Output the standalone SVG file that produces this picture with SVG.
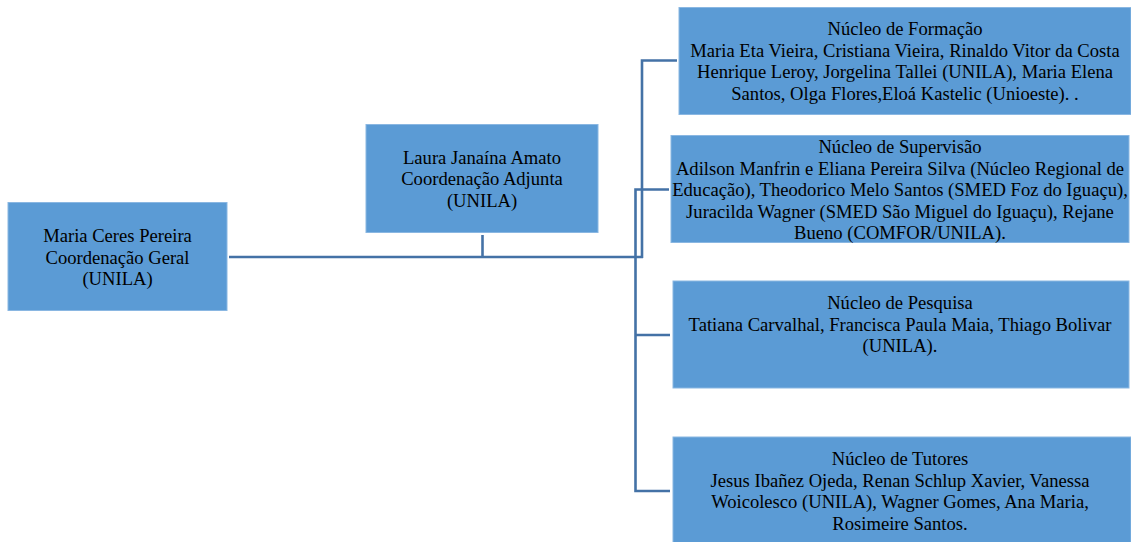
<svg xmlns="http://www.w3.org/2000/svg" width="1131" height="542" viewBox="0 0 1131 542">
<style>
.box{fill:#5B9BD5;stroke:#8AB7E2;stroke-width:1}
.t{font-family:"Liberation Serif","Times New Roman",serif;font-size:18.6px;fill:#000;text-anchor:middle}
.c{fill:none;stroke:#4472A6;stroke-width:2.6}
</style>
<rect width="1131" height="542" fill="#fff"/>
<g id="connectors">
<path class="c" d="M229,257 H643"/>
<path class="c" d="M482.5,235 V257"/>
<path class="c" d="M677,60.5 H642 V258"/>
<path class="c" d="M669,189.5 H635.5 V491 H670"/>
<path class="c" d="M635.5,335 H670"/>
</g>
<g id="coord-geral">
<rect class="box" x="8" y="202.5" width="219" height="108"/>
<text class="t" x="117.5" y="242">Maria Ceres Pereira</text>
<text class="t" x="117.5" y="264">Coordenação Geral</text>
<text class="t" x="117.5" y="285">(UNILA)</text>
</g>
<g id="coord-adjunta">
<rect class="box" x="366" y="124.5" width="232" height="108"/>
<text class="t" x="482" y="164">Laura Janaína Amato</text>
<text class="t" x="482" y="185">Coordenação Adjunta</text>
<text class="t" x="482" y="207">(UNILA)</text>
</g>
<g id="nucleo-formacao">
<rect class="box" x="679" y="7.5" width="452" height="107"/>
<text class="t" x="905" y="35">Núcleo de Formação</text>
<text class="t" x="905" y="57">Maria Eta Vieira, Cristiana Vieira, Rinaldo Vitor da Costa</text>
<text class="t" x="905" y="78">Henrique Leroy, Jorgelina Tallei (UNILA), Maria Elena</text>
<text class="t" x="905" y="100">Santos, Olga Flores,Eloá Kastelic (Unioeste). .</text>
</g>
<g id="nucleo-supervisao">
<rect class="box" x="671" y="135.5" width="458" height="107"/>
<text class="t" x="900" y="153">Núcleo de Supervisão</text>
<text class="t" x="900" y="175">Adilson Manfrin e Eliana Pereira Silva (Núcleo Regional de</text>
<text class="t" x="900" y="196">Educação), Theodorico Melo Santos (SMED Foz do Iguaçu),</text>
<text class="t" x="900" y="218">Juracilda Wagner (SMED São Miguel do Iguaçu), Rejane</text>
<text class="t" x="900" y="239">Bueno (COMFOR/UNILA).</text>
</g>
<g id="nucleo-pesquisa">
<rect class="box" x="673" y="281" width="456" height="107"/>
<text class="t" x="900" y="309">Núcleo de Pesquisa</text>
<text class="t" x="900" y="331">Tatiana Carvalhal, Francisca Paula Maia, Thiago Bolivar</text>
<text class="t" x="900" y="352">(UNILA).</text>
</g>
<g id="nucleo-tutores">
<rect class="box" x="673" y="437" width="458" height="106"/>
<text class="t" x="900" y="465">Núcleo de Tutores</text>
<text class="t" x="900" y="487">Jesus Ibañez Ojeda, Renan Schlup Xavier, Vanessa</text>
<text class="t" x="900" y="508">Woicolesco (UNILA), Wagner Gomes, Ana Maria,</text>
<text class="t" x="900" y="530">Rosimeire Santos.</text>
</g>
</svg>
